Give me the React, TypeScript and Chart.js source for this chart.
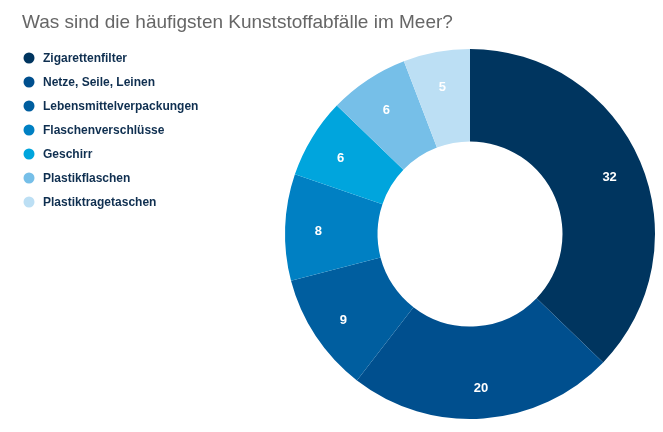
import React, { useEffect, useRef } from "react";
import { Chart, registerables } from "chart.js";

Chart.register(...registerables);

const titleText = "Was sind die häufigsten Kunststoffabfälle im Meer?";
const categories = [
  "Zigarettenfilter",
  "Netze, Seile, Leinen",
  "Lebensmittelverpackungen",
  "Flaschenverschlüsse",
  "Geschirr",
  "Plastikflaschen",
  "Plastiktragetaschen",
];
const values = [32, 20, 9, 8, 6, 6, 5];
const colors = ["#00355f", "#004f8e", "#005e9f", "#0080c3", "#00a5dd", "#76bfe8", "#bcdff4"];

const FONT = "'Liberation Sans', Arial, Helvetica, sans-serif";

const overlayPlugin = {
  id: "overlay",
  afterDatasetsDraw(chart: any) {
    const ctx = chart.ctx;
    ctx.save();
    // data labels
    const meta = chart.getDatasetMeta(0);
    ctx.fillStyle = "#ffffff";
    ctx.font = `bold 13px ${FONT}`;
    ctx.textAlign = "center";
    ctx.textBaseline = "middle";
    meta.data.forEach((arc: any, i: number) => {
      const p = arc.getProps(["x", "y", "startAngle", "endAngle", "outerRadius"], true);
      const mid = (p.startAngle + p.endAngle) / 2;
      const r = p.outerRadius * 0.82;
      ctx.fillText(String(values[i]), p.x + Math.cos(mid) * r, p.y + Math.sin(mid) * r + 3);
    });
    // title
    ctx.textAlign = "left";
    ctx.fillStyle = "#666666";
    ctx.font = `19px ${FONT}`;
    ctx.fillText(titleText, 22, 23);
    // legend
    ctx.font = `bold 12px ${FONT}`;
    categories.forEach((c, i) => {
      const y = 58 + i * 24;
      ctx.beginPath();
      ctx.fillStyle = colors[i];
      ctx.arc(29, y, 5.5, 0, Math.PI * 2);
      ctx.fill();
      ctx.fillStyle = "#0f2f50";
      ctx.fillText(c, 43, y + 0.5);
    });
    ctx.restore();
  },
};

export default function App() {
  const ref = useRef<HTMLCanvasElement | null>(null);
  useEffect(() => {
    document.body.style.margin = "0";
    const chart = new Chart(ref.current as HTMLCanvasElement, {
      type: "doughnut",
      data: {
        labels: categories,
        datasets: [
          {
            data: values,
            backgroundColor: colors,
            borderWidth: 0,
          },
        ],
      },
      options: {
        animation: false,
        responsive: false,
        maintainAspectRatio: false,
        cutout: "50%",
        layout: { padding: { left: 285, top: 49, right: 8, bottom: 13 } },
        plugins: {
          legend: { display: false },
          title: { display: false },
          tooltip: { enabled: false },
        },
      },
      plugins: [overlayPlugin],
    });
    return () => chart.destroy();
  }, []);
  return (
    <div style={{ width: 663, height: 432, background: "#fff" }}>
      <canvas ref={ref} width={663} height={432} style={{ display: "block" }} />
    </div>
  );
}
